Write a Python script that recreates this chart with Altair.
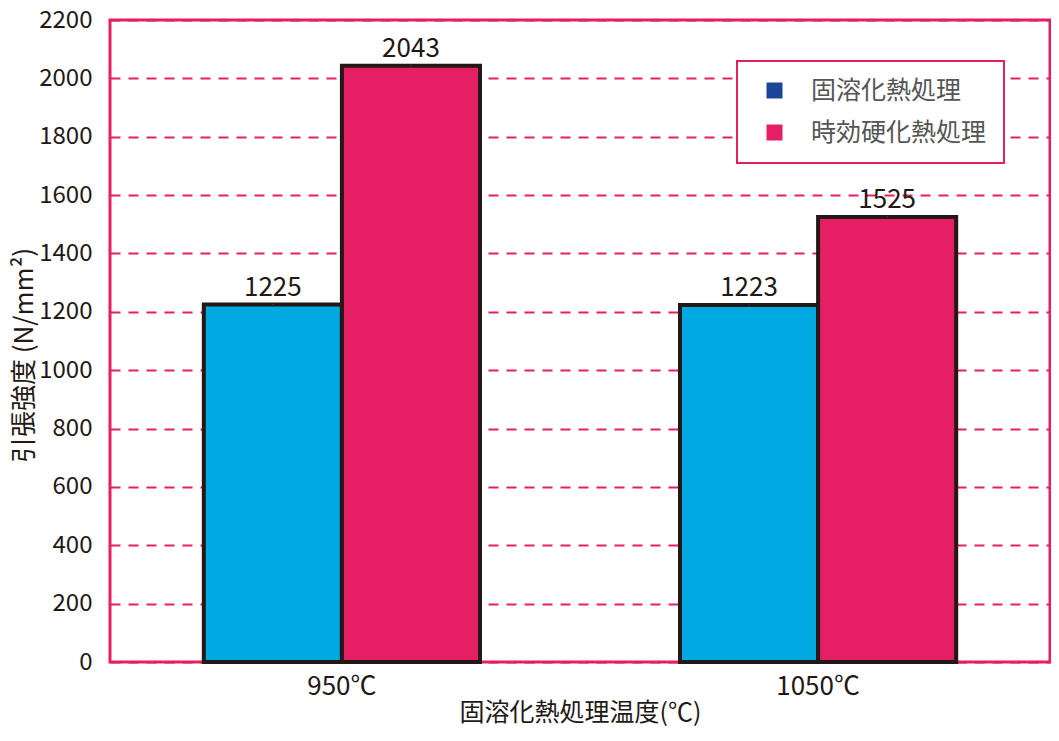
import altair as alt
import pandas as pd

temps = ["950℃", "950℃", "1050℃", "1050℃"]
treatments = ["固溶化熱処理", "時効硬化熱処理", "固溶化熱処理", "時効硬化熱処理"]
strength = [1225, 2043, 1223, 1525]
temp_order = ["950℃", "1050℃"]
treat_order = ["固溶化熱処理", "時効硬化熱処理"]
legend_colors = ["#1C449B", "#E61F64"]
y_ticks = list(range(0, 2201, 200))

df = pd.DataFrame({"temp": temps, "treat": treatments, "value": strength})

FONT = "Noto Sans CJK JP"
PINK = "#E61F64"
BLUE = "#00A9E2"
DARK = "#231815"

x_enc = alt.X("temp:N", sort=temp_order,
              scale=alt.Scale(paddingInner=0.42, paddingOuter=0.197),
              axis=alt.Axis(title="固溶化熱処理温度(℃)", labelAngle=0, ticks=False,
                            domain=False, labelPadding=11, titlePadding=1,
                            labelFontSize=26, titleFontSize=25,
                            labelColor=DARK, titleColor=DARK,
                            titleFontWeight="normal", labelFont=FONT, titleFont=FONT))
y_enc = alt.Y("value:Q", scale=alt.Scale(domain=[0, 2200], nice=False),
              axis=alt.Axis(title="引張強度 (N/mm²)", values=y_ticks, format="d", ticks=False,
                            domain=False, labelPadding=18, titlePadding=1,
                            labelFontSize=24, titleFontSize=26,
                            labelColor=DARK, titleColor=DARK, titleY=335,
                            titleFontWeight="normal", labelFont=FONT, titleFont=FONT,
                            grid=True, gridColor=PINK, gridDash=[10, 8], gridWidth=2))
xo = alt.XOffset("treat:N", sort=treat_order, scale=alt.Scale(paddingInner=0, paddingOuter=0))

base = alt.Chart(df)

# fill scale keeps a data-driven domain so its (disabled) legend is not merged with the colour legend
bars = base.mark_bar(stroke=DARK, strokeWidth=4).encode(
    x=x_enc, xOffset=xo, y=y_enc,
    fill=alt.Fill("treat:N", sort=treat_order,
                  scale=alt.Scale(range=[BLUE, PINK]), legend=None),
)

labels = base.mark_text(baseline="alphabetic", dy=-9, fontSize=26, font=FONT, color=DARK).encode(
    x=x_enc, xOffset=xo, y=y_enc, text="value:Q"
)

# tiny points hidden on the bar outlines, only there to carry the legend
legend_layer = base.mark_square(size=1, opacity=1).encode(
    x=x_enc, xOffset=xo, y=y_enc,
    color=alt.Color("treat:N", sort=treat_order,
                    scale=alt.Scale(domain=treat_order, range=legend_colors),
                    legend=alt.Legend(orient="none", legendX=627, legendY=41, title="",
                                      symbolType="square", symbolSize=256, symbolOffset=8,
                                      symbolStrokeWidth=0, labelFontSize=25, labelFont=FONT,
                                      labelColor="#555555", labelOffset=24, rowPadding=16,
                                      padding=17, strokeColor=PINK, fillColor="white",
                                      labelLimit=400)),
)

chart = (bars + labels + legend_layer).properties(
    width=940, height=642,
    autosize=alt.AutoSizeParams(type="none"),
    padding={"left": 102, "top": 12, "right": 1, "bottom": 66},
).configure_view(stroke=PINK, strokeWidth=3).configure_legend(strokeWidth=2)

chart.save("out.html", embed_options={"renderer": "svg", "actions": False})
